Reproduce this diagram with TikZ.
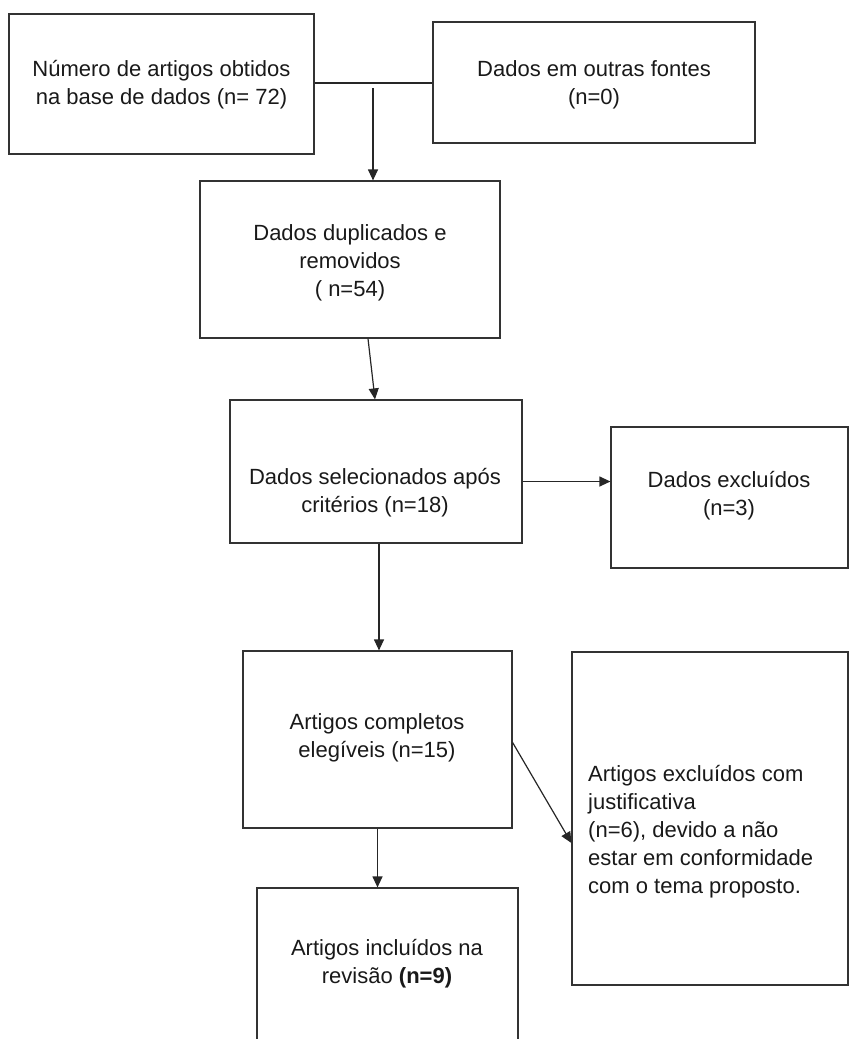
\documentclass[tikz,border=0pt]{standalone}
\usepackage{fontspec}
\setmainfont{Liberation Sans}
\usetikzlibrary{arrows.meta}

\begin{document}
\begin{tikzpicture}[x=1pt,y=-1pt]
    \tikzstyle{box}=[rectangle,draw=black!80,line width=1.2pt,inner sep=0pt]
    \tikzstyle{txt}=[align=center,inner sep=0pt,font=\fontsize{22}{28}\selectfont,text=black!90]
    \tikzstyle{arrow}=[draw=black!85,line width=1.2pt,-{Triangle[length=11pt,width=10pt]}]
    \clip (0,0) rectangle (862,1039);

    \node (numero)[box,minimum width=305pt,minimum height=140pt] at (161.5,84) {};
    \node (outras)[box,minimum width=322pt,minimum height=121pt] at (594,82.5) {};
    \node (dup)[box,minimum width=300pt,minimum height=157pt] at (350,259.5) {};
    \node (sel)[box,minimum width=292pt,minimum height=143pt] at (376,471.5) {};
    \node (exc)[box,minimum width=237pt,minimum height=141pt] at (729.5,497.5) {};
    \node (comp)[box,minimum width=269pt,minimum height=177pt] at (377.5,739.5) {};
    \node (just)[box,minimum width=276pt,minimum height=333pt] at (710,818.5) {};
    \node (inc)[box,minimum width=261pt,minimum height=160pt] at (387.5,968) {};

    \node (numerot)[txt] at (161.5,85) {Número de artigos obtidos\\na base de dados (n= 72)};
    \node (outrast)[txt] at (594,85) {Dados em outras fontes\\(n=0)};
    \node (dupt)[txt] at (350,263) {Dados duplicados e\\removidos\\( n=54)};
    \node (selt)[txt] at (375,493) {Dados selecionados após\\critérios (n=18)};
    \node (exct)[txt] at (729,496) {Dados excluídos\\(n=3)};
    \node (compt)[txt] at (377,738) {Artigos completos\\elegíveis (n=15)};
    \node (justt)[txt,align=left,anchor=west] at (588,832) {Artigos excluídos com\\justificativa\\(n=6), devido a não\\estar em conformidade\\com o tema proposto.};
    \node (inct)[txt] at (387,964) {Artigos incluídos na\\revisão \textbf{(n=9)}};

    \coordinate (split) at (373,83);
    \coordinate (drop) at (373,88);
    \draw[draw=black!85,line width=1.2pt] (numero.east |- split) -- (outras.west |- split);
    \draw[arrow] (drop) -- (drop |- dup.north);
    \draw[arrow] ([xshift=18pt]dup.south) -- ([xshift=-1pt]sel.north);
    \draw[arrow] ([yshift=-10pt]sel.east) -- ([yshift=-10pt]sel.east -| exc.west);
    \draw[arrow] ([xshift=3pt]sel.south) -- ([xshift=3pt]sel.south |- comp.north);
    \draw[arrow] ([yshift=-3pt]comp.east) -- ([yshift=-24.5pt]just.west);
    \draw[arrow] (comp.south) -- (comp.south |- inc.north);
\end{tikzpicture}
\end{document}
